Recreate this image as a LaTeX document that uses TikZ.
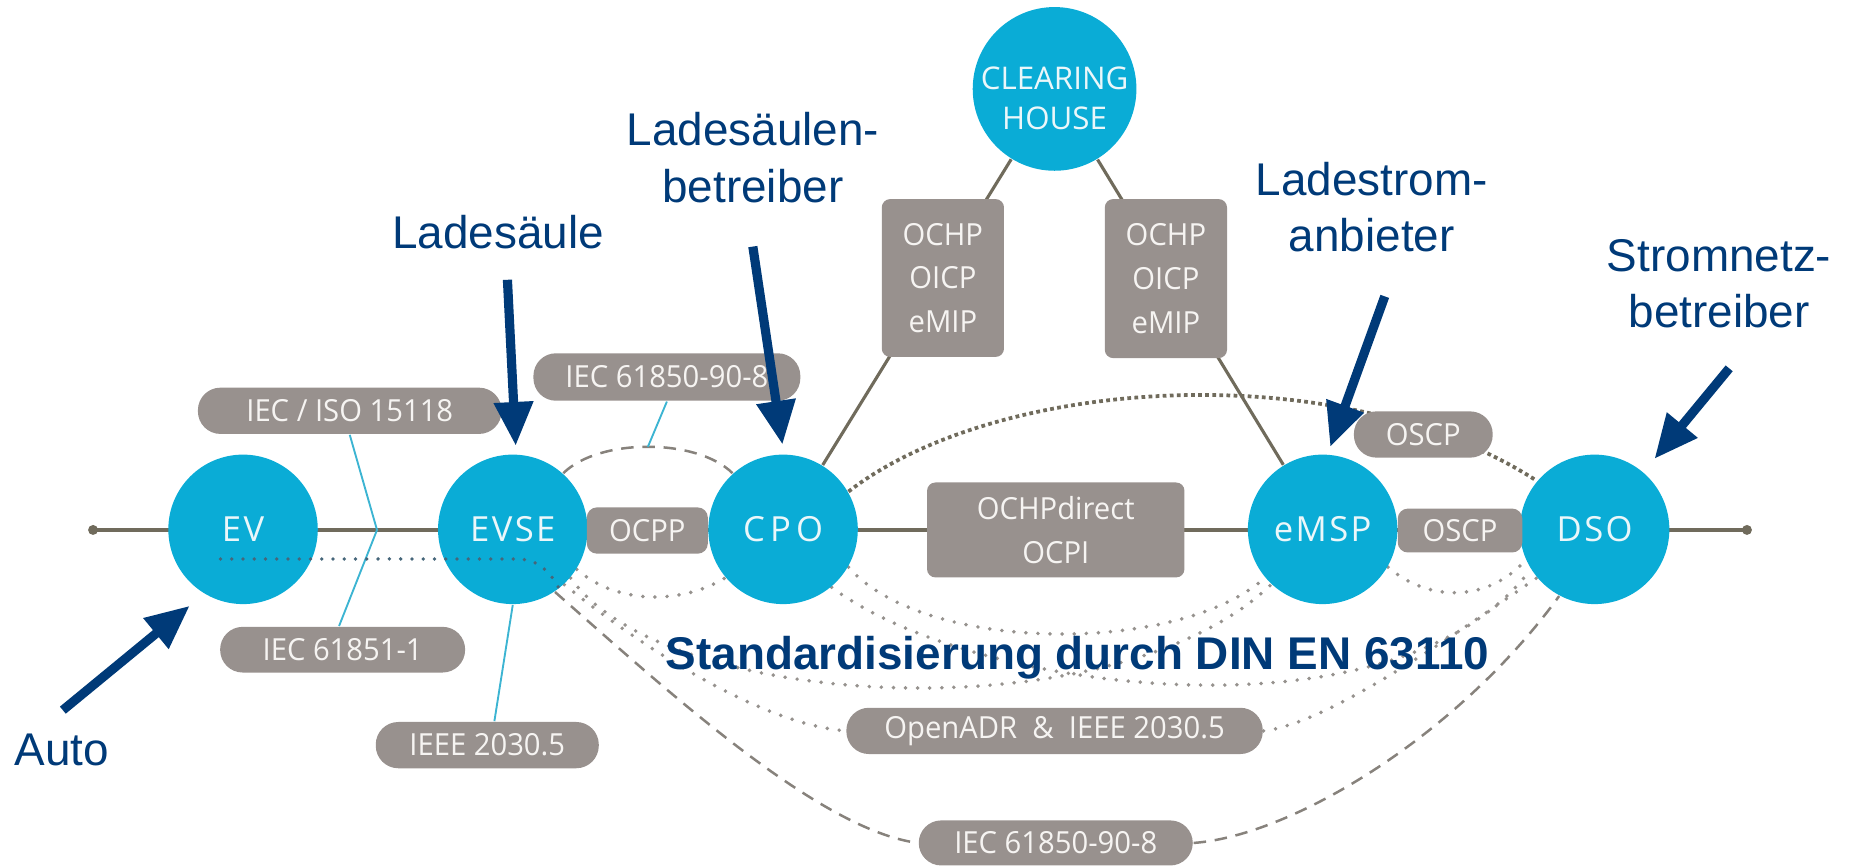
\documentclass[tikz,border=0pt]{standalone}
\usepackage{fontspec}
\setmainfont{Liberation Sans}
\newfontfamily\boxfont[FakeStretch=0.96]{Open Sans}
\newfontfamily\chfont{Open Sans}
\newfontfamily\circfont[LetterSpace=7]{Open Sans}
\newfontfamily\circfontw[LetterSpace=15]{Open Sans}
\usetikzlibrary{arrows.meta,backgrounds}
\definecolor{cblue}{RGB}{10,172,214}
\definecolor{bgray}{RGB}{152,145,142}
\definecolor{olive}{RGB}{112,107,92}
\definecolor{navy}{RGB}{0,58,120}
\definecolor{cyanl}{RGB}{60,180,210}
\definecolor{dotg}{RGB}{150,146,142}
\definecolor{dashg}{RGB}{135,130,124}
\definecolor{boxtxt}{RGB}{246,244,242}
\definecolor{evdot}{RGB}{70,102,122}
\tikzset{
  ent/.style={circle, fill=cblue, minimum size=1.26cm, inner sep=0pt,
    text={rgb,255:red,235;green,247;blue,250}, font=\circfont\fontsize{8.3}{9.6}\selectfont},
  chtext/.style={inner sep=0pt, align=center, text={rgb,255:red,235;green,247;blue,250},
    font=\chfont\fontsize{7.5}{9.6}\selectfont},
  boxbase/.style={fill=bgray, inner sep=0pt, text=boxtxt, align=center,
    font=\boxfont\fontsize{7.3}{10.5}\selectfont},
  pill/.style={boxbase, rounded corners=0.19cm},
  rbox/.style={boxbase, rounded corners=0.085cm},
  tbox/.style={boxbase, rounded corners=0.07cm},
  lbl/.style={text=navy, inner sep=0pt, align=center, font=\fontsize{11}{13.6}\selectfont},
  navyarrow/.style={draw=navy, line width=2.2pt, -{Triangle[length=10.5pt,width=9pt]}},
  mainline/.style={draw=olive, line width=0.95pt},
  chline/.style={draw=olive, line width=0.75pt},
  cyanline/.style={draw=cyanl, line width=0.45pt},
  lightdot/.style={draw=dotg, line width=0.95pt, line cap=round, dash pattern=on 0pt off 2.9pt},
  densedot/.style={draw=olive, line width=0.9pt, dash pattern=on 0.9pt off 0.8pt},
  evdotted/.style={draw=evdot, line width=0.9pt, line cap=round, dash pattern=on 0pt off 2.7pt},
  dashline/.style={draw=dashg, line width=0.6pt, dash pattern=on 3pt off 2.1pt},
  enddot/.style={circle, fill=olive, minimum size=0.084cm, inner sep=0pt}
}
\begin{document}
\begin{tikzpicture}[x=0.01cm, y=-0.01cm]
\useasboundingbox (0,0) rectangle (1568,731);

% entities
\node[ent] (EV) at (205,446.5) {EV};
\node[ent] (EVSE) at (432.5,446.5) {EVSE};
\node[ent, font=\circfontw\fontsize{8.3}{9.6}\selectfont] (CPO) at (660.5,446.5) {CPO};
\node[ent] (eMSP) at (1115.6,446.5) {eMSP};
\node[ent] (DSO) at (1345,446.5) {DSO};
\node[ent, minimum size=1.38cm] (CH) at (889.5,75) {};
\node[chtext] (CHtxt) at (889.5,83) {CLEARING\\HOUSE};
\node[enddot] (dotL) at (78.5,447) {};
\node[enddot] (dotR) at (1473.5,447) {};

% protocol boxes
\node[pill, minimum width=2.56cm, minimum height=0.39cm] (ISO) at (295,346.5) {IEC / ISO 15118};
\node[pill, minimum width=2.25cm, minimum height=0.40cm] (IECtop) at (562.5,318) {IEC 61850-90-8};
\node[rbox, minimum width=1.02cm, minimum height=0.39cm] (OCPP) at (546,447.5) {OCPP};
\node[tbox, minimum width=2.17cm, minimum height=0.80cm] (OCHPd) at (890.5,447) {OCHPdirect\\OCPI};
\node[tbox, minimum width=1.03cm, minimum height=1.33cm] (OCHPL) at (795.3,234.5) {OCHP\\OICP\\eMIP};
\node[tbox, minimum width=1.03cm, minimum height=1.34cm] (OCHPR) at (983.4,235) {OCHP\\OICP\\eMIP};
\node[pill, minimum width=1.17cm, minimum height=0.39cm] (OSCPt) at (1200.5,366.5) {OSCP};
\node[rbox, minimum width=1.05cm, minimum height=0.37cm] (OSCPm) at (1231.5,447.5) {OSCP};
\node[pill, minimum width=2.065cm, minimum height=0.385cm] (IEC1) at (289,548) {IEC 61851-1};
\node[pill, minimum width=1.88cm, minimum height=0.39cm] (IEEE) at (411,628.5) {IEEE 2030.5};
\node[pill, minimum width=3.51cm, minimum height=0.39cm] (ADR) at (889.5,616.5) {OpenADR\enspace\&\enspace IEEE 2030.5};
\node[pill, minimum width=2.31cm, minimum height=0.38cm] (IECbot) at (890.5,711) {IEC 61850-90-8};

% connectors (behind)
\begin{pgfonlayer}{background}
\draw[mainline] (dotL.center) -- (dotR.center);
\draw[chline] (CPO) -- (CH);
\draw[chline] (eMSP) -- (CH);
\draw[dashline] (EVSE.48) .. controls (505,369.4) and (588,369.4) .. coordinate[pos=0.5] (arcTop) (CPO.132);
\coordinate (kink) at (318,447);
\draw[cyanline] (ISO.south) -- (kink) -- ([xshift=-0.03cm]IEC1.north);
\draw[cyanline] (EVSE.south) -- ([xshift=0.06cm]IEEE.north);
\draw[cyanline] (IECtop.south) -- (arcTop);
\draw[densedot] (CPO.30) .. controls (840,318) and (1130,298) .. (DSO.140);
\draw[lightdot] (EVSE.-32) .. controls (520,510) and (575,510) .. (CPO.-140);
\draw[lightdot] (EVSE.-40) .. controls (560,600) and (940,620) .. (eMSP.-133);
\draw[lightdot] (EVSE.-47) .. controls (540,545) and (640,610) .. (ADR.west);
\draw[lightdot] (ADR.east) .. controls (1120,610) and (1220,540) .. (DSO.-140);
\draw[lightdot] (CPO.-30) .. controls (780,552) and (995,552) .. (eMSP.-140);
\draw[lightdot] (CPO.-50) .. controls (820,585) and (1180,630) .. (DSO.-148);
\draw[lightdot] (eMSP.-30) .. controls (1205,508) and (1255,508) .. (DSO.-156);
\draw[dashline] (EVSE.-56) .. controls (560,580) and (690,700) .. (IECbot.west);
\draw[dashline] (IECbot.east) .. controls (1090,705) and (1230,620) .. (DSO.-118);
\end{pgfonlayer}

% EV dotted line (on top)
\coordinate (evStart) at (186,471.5);
\draw[evdotted] (evStart) -- (436,471.5) .. controls (455,471.5) and (465,484) .. (EVSE.-52);

% annotations
\node[lbl, anchor=base] (lLS) at (420,210) {Ladesäule};
\node[lbl, anchor=north] (lLSB) at (635,94) {Ladesäulen-\\betreiber};
\node[lbl, anchor=north] (lLSA) at (1157,136) {Ladestrom-\\anbieter};
\node[lbl, anchor=north] (lSNB) at (1450,201) {Stromnetz-\\betreiber};
\node[lbl, anchor=base] (lAuto) at (52,646) {Auto};
\node[lbl, anchor=base west, font=\bfseries\fontsize{11}{13.3}\selectfont] (lStd) at (561,565) {Standardisierung durch DIN EN 63110};

\coordinate (tLS) at (428,236);   \coordinate (hLS) at (435,376);
\coordinate (tLSB) at (635,208);  \coordinate (hLSB) at (660,375);
\coordinate (tLSA) at (1168,250); \coordinate (hLSA) at (1122,377);
\coordinate (tSNB) at (1458.5,310.7); \coordinate (hSNB) at (1395.5,387);
\coordinate (tAuto) at (53,599);  \coordinate (hAuto) at (160,511);
\draw[navyarrow] (tLS) -- (hLS);
\draw[navyarrow] (tLSB) -- (hLSB);
\draw[navyarrow] (tLSA) -- (hLSA);
\draw[navyarrow] (tSNB) -- (hSNB);
\draw[navyarrow] (tAuto) -- (hAuto);
\end{tikzpicture}
\end{document}
